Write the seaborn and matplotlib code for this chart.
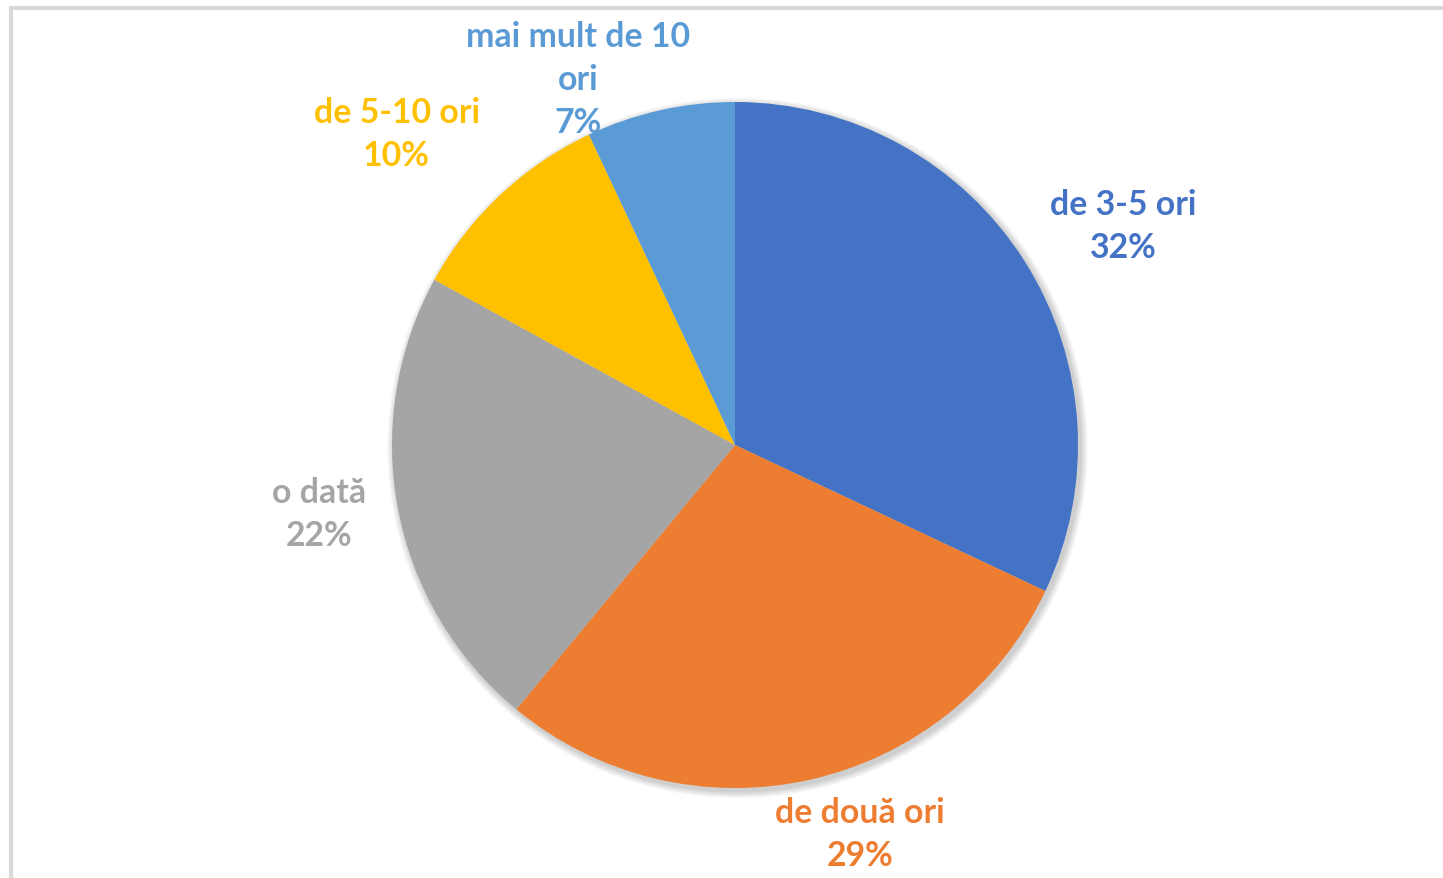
import numpy as np
import seaborn as sns
import matplotlib.pyplot as plt
from matplotlib.patches import Circle, Rectangle

categories = ["de 3-5 ori", "de două ori", "o dată", "de 5-10 ori", "mai mult de 10\nori"]
values = [32, 29, 22, 10, 7]
colors = ["#4472C4", "#ED7D31", "#A5A5A5", "#FFC000", "#5B9BD5"]

# label placement: (distance factor, angle shift in degrees) per slice
label_layout = [(1.30, -2.9), (1.19, 5.2), (1.23, -1.4), (1.34, 4.2), (1.16, 10.6)]

sns.set_theme(style="white")
plt.rcParams["font.family"] = ["Lato", "DejaVu Sans"]

W, H = 1443, 879
fig = plt.figure(figsize=(W / 100, H / 100), dpi=100)
ax = fig.add_axes([0, 0, 1, 1])

cx, cy, R = 735, H - 446, 343

# frame at top/left edge
ax.add_patch(Rectangle((10.5, -5), W + 10, H - 8.5 - (-5), fill=False,
                       edgecolor="#d9d9d9", lw=3, zorder=0))

# soft shadow
for i in range(8):
    ax.add_patch(Circle((cx + 2.5, cy - 3), R + 1 + i * 0.9, color="black",
                        alpha=0.025, lw=0, zorder=1))

wedges, _ = ax.pie(values, colors=colors, startangle=90, counterclock=False,
                   center=(cx, cy), radius=R, frame=True,
                   wedgeprops=dict(linewidth=0, zorder=2))
ax.set_xlim(0, W)
ax.set_ylim(0, H)
ax.set_aspect("equal")
ax.axis("off")

for w, cat, v, col, (dist, shift) in zip(wedges, categories, values, colors, label_layout):
    mid = np.deg2rad((w.theta1 + w.theta2) / 2 + shift)
    x = cx + dist * R * np.cos(mid)
    y = cy + dist * R * np.sin(mid)
    ax.text(x, y, f"{cat}\n{v}%", color=col, fontsize=24.4, fontweight="bold",
            ha="center", va="center", linespacing=1.42, zorder=5)

fig.savefig("out.png", dpi=100)
